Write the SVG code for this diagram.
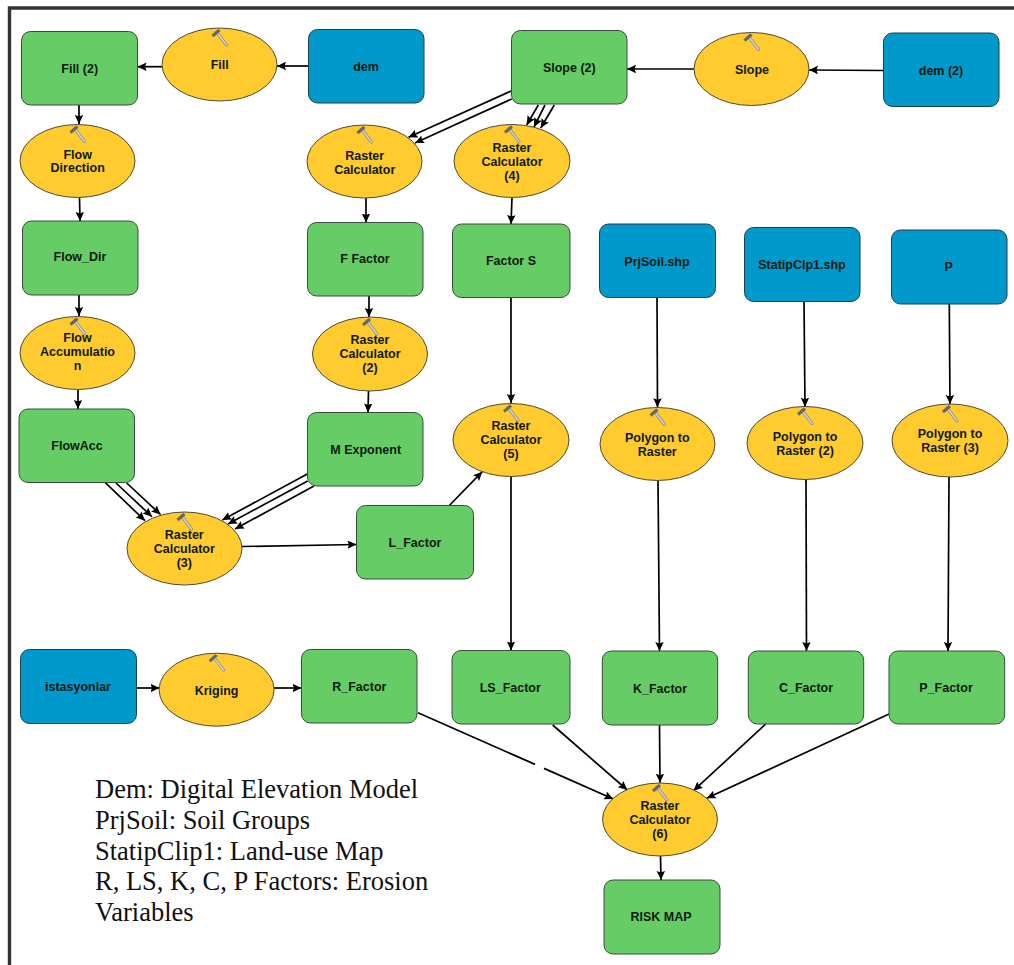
<svg xmlns="http://www.w3.org/2000/svg" xmlns:xlink="http://www.w3.org/1999/xlink" width="1014" height="965" viewBox="0 0 1014 965">
<style>
.g{fill:#66cd66;stroke:#3c4a3c;stroke-width:1}
.b{fill:#0099cc;stroke:#1f3f4f;stroke-width:1}
.y{fill:#ffcb2f;stroke:#4d4a38;stroke-width:1}
.t{font-family:"Liberation Sans",Arial,sans-serif;font-size:12.5px;font-weight:bold;fill:#0f1a10;text-anchor:middle}
.l{font-family:"Liberation Serif","Times New Roman",serif;font-size:26.5px;fill:#111}
#connectors line{stroke:#000;stroke-width:1.7;fill:none}
#connectors line.a{marker-end:url(#ah)}
</style>
<defs>
<marker id="ah" markerUnits="userSpaceOnUse" markerWidth="10" markerHeight="10" refX="9" refY="4.5" orient="auto"><path d="M0,0.3 L9,4.5 L0,8.7 L1.5,4.5 Z" fill="#000"/></marker>
<g id="hammer"><line x1="-3" y1="4" x2="7" y2="17" stroke="#8b8b8b" stroke-width="3" stroke-linecap="round"/><line x1="-3" y1="4" x2="7" y2="17" stroke="#d6d6d6" stroke-width="1.4" stroke-linecap="round"/><line x1="-7" y1="8" x2="0" y2="2" stroke="#666" stroke-width="3"/></g>
</defs>
<rect width="1014" height="965" fill="#fff"/>
<g id="frame"><path d="M1014,8 H9.5 V965" fill="none" stroke="#333" stroke-width="3.4"/></g>
<g id="connectors">
<line class="a" x1="162" y1="66.7" x2="137.5" y2="66.7"/>
<line class="a" x1="308.5" y1="66" x2="277" y2="66"/>
<line class="a" x1="79" y1="105" x2="79" y2="124"/>
<line class="a" x1="79.5" y1="197.5" x2="80" y2="221"/>
<line class="a" x1="79" y1="295" x2="79" y2="316"/>
<line class="a" x1="78" y1="389" x2="78" y2="409"/>
<line class="a" x1="694" y1="69" x2="627" y2="69"/>
<line class="a" x1="883.5" y1="70.5" x2="809" y2="70"/>
<line class="a" x1="511.7" y1="90.7" x2="408.5" y2="137.3"/>
<line class="a" x1="511.7" y1="99" x2="415" y2="143"/>
<line class="a" x1="538.3" y1="105" x2="526.7" y2="125"/>
<line class="a" x1="545" y1="105" x2="534" y2="127"/>
<line class="a" x1="554.3" y1="105" x2="540.7" y2="128"/>
<line class="a" x1="366" y1="198" x2="366" y2="222.5"/>
<line class="a" x1="512" y1="197.5" x2="511" y2="224"/>
<line class="a" x1="369" y1="296" x2="369" y2="317"/>
<line class="a" x1="368.5" y1="391" x2="368" y2="412.5"/>
<line class="a" x1="511" y1="297.5" x2="511" y2="403"/>
<line class="a" x1="657" y1="297.5" x2="657.5" y2="407.3"/>
<line class="a" x1="804" y1="301.5" x2="805" y2="406.7"/>
<line class="a" x1="949.3" y1="304" x2="950" y2="404"/>
<line class="a" x1="658" y1="480.5" x2="659.5" y2="651"/>
<line class="a" x1="806" y1="480" x2="806.5" y2="651"/>
<line class="a" x1="949" y1="477" x2="948" y2="651"/>
<line class="a" x1="511" y1="476" x2="511" y2="650.5"/>
<line class="a" x1="105.3" y1="482.7" x2="145" y2="520.7"/>
<line class="a" x1="116" y1="483" x2="152" y2="516.7"/>
<line class="a" x1="126.7" y1="483" x2="160.5" y2="514.5"/>
<line class="a" x1="307.3" y1="474" x2="222.3" y2="520"/>
<line class="a" x1="307.7" y1="481" x2="228" y2="524"/>
<line class="a" x1="314" y1="486" x2="235" y2="529"/>
<line class="a" x1="242" y1="546.5" x2="356.5" y2="544.5"/>
<line class="a" x1="449.3" y1="505.5" x2="482.3" y2="471.7"/>
<line class="a" x1="136" y1="688" x2="159.5" y2="688"/>
<line class="a" x1="274" y1="688" x2="301.5" y2="688"/>
<line x1="418" y1="712.7" x2="535" y2="764.4"/>
<line class="a" x1="544" y1="768.4" x2="613.3" y2="799"/>
<line class="a" x1="552.7" y1="725" x2="627.3" y2="790"/>
<line class="a" x1="659.5" y1="725" x2="660" y2="782.7"/>
<line class="a" x1="765.7" y1="724" x2="693.5" y2="790.7"/>
<line class="a" x1="889" y1="714" x2="706.7" y2="798.3"/>
<line class="a" x1="660.5" y1="856" x2="661" y2="880"/>
</g>
<g id="fill2"><rect class="g" x="21.5" y="31.5" width="116" height="73.5" rx="9"/><text class="t" x="79.7" y="72.5">Fill (2)</text></g>
<g id="fill"><ellipse class="y" cx="219.5" cy="64.5" rx="57.5" ry="36.5"/><use xlink:href="#hammer" x="219.5" y="28"/><text class="t" x="219.7" y="68.5">Fill</text></g>
<g id="dem"><rect class="b" x="308.5" y="29.5" width="115.5" height="73.5" rx="9"/><text class="t" x="366" y="71">dem</text></g>
<g id="slope2"><rect class="g" x="511.5" y="30.5" width="115.5" height="73.5" rx="9"/><text class="t" x="569.3" y="72">Slope (2)</text></g>
<g id="slope"><ellipse class="y" cx="751.5" cy="69" rx="57.5" ry="36.5"/><use xlink:href="#hammer" x="751.5" y="32.5"/><text class="t" x="752" y="73.5">Slope</text></g>
<g id="dem2"><rect class="b" x="883.5" y="33" width="115.5" height="73.5" rx="9"/><text class="t" x="941" y="74.5">dem (2)</text></g>
<g id="flowdirection"><ellipse class="y" cx="77.5" cy="161" rx="57.5" ry="36.5"/><use xlink:href="#hammer" x="77.5" y="124.5"/><text class="t" x="77.7" y="158.5">Flow</text><text class="t" x="77.7" y="172">Direction</text></g>
<g id="rc1"><ellipse class="y" cx="364.5" cy="161.5" rx="57.5" ry="36.5"/><use xlink:href="#hammer" x="364.5" y="125"/><text class="t" x="364.7" y="159.5">Raster</text><text class="t" x="364.7" y="173.5">Calculator</text></g>
<g id="rc4"><ellipse class="y" cx="512" cy="161" rx="58" ry="36.5"/><use xlink:href="#hammer" x="512" y="124.5"/><text class="t" x="512" y="151.5">Raster</text><text class="t" x="512" y="165.5">Calculator</text><text class="t" x="512" y="179.5">(4)</text></g>
<g id="flowdir"><rect class="g" x="22.5" y="221" width="115.5" height="74" rx="9"/><text class="t" x="80" y="261">Flow_Dir</text></g>
<g id="ffactor"><rect class="g" x="307.5" y="222.5" width="115.5" height="73.5" rx="9"/><text class="t" x="365" y="263">F Factor</text></g>
<g id="factors"><rect class="g" x="452.5" y="224" width="117.5" height="73.5" rx="9"/><text class="t" x="511" y="265">Factor S</text></g>
<g id="prjsoil"><rect class="b" x="599.5" y="224" width="116" height="73.5" rx="9"/><text class="t" x="657" y="265.5">PrjSoil.shp</text></g>
<g id="statip"><rect class="b" x="744.5" y="227.5" width="115.5" height="74" rx="9"/><text class="t" x="802" y="269">StatipClp1.shp</text></g>
<g id="p"><rect class="b" x="891.5" y="230" width="115.5" height="74" rx="9"/><text class="t" x="948.7" y="271">P</text></g>
<g id="poly1"><ellipse class="y" cx="657.5" cy="444" rx="57.5" ry="36.5"/><use xlink:href="#hammer" x="657.5" y="407.5"/><text class="t" x="657.3" y="441.5">Polygon to</text><text class="t" x="657.3" y="455.5">Raster</text></g>
<g id="poly2"><ellipse class="y" cx="805" cy="443" rx="58" ry="36.5"/><use xlink:href="#hammer" x="805" y="406.5"/><text class="t" x="805" y="440.5">Polygon to</text><text class="t" x="805" y="454.5">Raster (2)</text></g>
<g id="poly3"><ellipse class="y" cx="950" cy="440.5" rx="58" ry="36.5"/><use xlink:href="#hammer" x="950" y="404"/><text class="t" x="950" y="438">Polygon to</text><text class="t" x="950" y="452">Raster (3)</text></g>
<g id="flowaccumulation"><ellipse class="y" cx="77.5" cy="353" rx="57.5" ry="36.5"/><use xlink:href="#hammer" x="77.5" y="316.5"/><text class="t" x="77.5" y="341.5">Flow</text><text class="t" x="77.5" y="355.5">Accumulatio</text><text class="t" x="77.5" y="369.5">n</text></g>
<g id="rc2"><ellipse class="y" cx="370" cy="354" rx="57.5" ry="37"/><use xlink:href="#hammer" x="370" y="317"/><text class="t" x="370" y="344">Raster</text><text class="t" x="370" y="358">Calculator</text><text class="t" x="370" y="372">(2)</text></g>
<g id="flowacc"><rect class="g" x="19" y="409" width="115.5" height="73.5" rx="9"/><text class="t" x="77" y="450">FlowAcc</text></g>
<g id="mexponent"><rect class="g" x="307.5" y="412.5" width="115.5" height="73.5" rx="9"/><text class="t" x="365.7" y="453.5">M Exponent</text></g>
<g id="rc5"><ellipse class="y" cx="511" cy="440" rx="58" ry="36.5"/><use xlink:href="#hammer" x="511" y="403.5"/><text class="t" x="511" y="430">Raster</text><text class="t" x="511" y="444">Calculator</text><text class="t" x="511" y="458">(5)</text></g>
<g id="rc3"><ellipse class="y" cx="184.5" cy="548.5" rx="57.5" ry="36.5"/><use xlink:href="#hammer" x="184.5" y="512"/><text class="t" x="184.3" y="538.5">Raster</text><text class="t" x="184.3" y="552.5">Calculator</text><text class="t" x="184.3" y="566.5">(3)</text></g>
<g id="lfactor"><rect class="g" x="356.5" y="505.5" width="117" height="73.5" rx="9"/><text class="t" x="415" y="546.5">L_Factor</text></g>
<g id="istasyonlar"><rect class="b" x="20.5" y="649.5" width="116" height="74" rx="9"/><text class="t" x="78" y="691">istasyonlar</text></g>
<g id="kriging"><ellipse class="y" cx="216.6" cy="689.7" rx="57.5" ry="36.5"/><use xlink:href="#hammer" x="216.6" y="653.2"/><text class="t" x="216.6" y="695">Kriging</text></g>
<g id="rfactor"><rect class="g" x="301.5" y="649.5" width="115.5" height="73.5" rx="9"/><text class="t" x="359.3" y="691">R_Factor</text></g>
<g id="lsfactor"><rect class="g" x="452" y="650.5" width="118" height="73.5" rx="9"/><text class="t" x="510.3" y="692">LS_Factor</text></g>
<g id="kfactor"><rect class="g" x="602.3" y="651" width="115.4" height="74" rx="9"/><text class="t" x="660" y="692.5">K_Factor</text></g>
<g id="cfactor"><rect class="g" x="748.3" y="651" width="115.4" height="73" rx="9"/><text class="t" x="806" y="691.5">C_Factor</text></g>
<g id="pfactor"><rect class="g" x="889" y="651" width="115.7" height="73" rx="9"/><text class="t" x="946" y="691.5">P_Factor</text></g>
<g id="rc6"><ellipse class="y" cx="660" cy="819.5" rx="57.5" ry="36.5"/><use xlink:href="#hammer" x="660" y="783"/><text class="t" x="660" y="810">Raster</text><text class="t" x="660" y="824">Calculator</text><text class="t" x="660" y="838">(6)</text></g>
<g id="riskmap"><rect class="g" x="604" y="880" width="116" height="74" rx="9"/><text class="t" x="661" y="921">RISK MAP</text></g>
<g id="legend">
<text class="l" x="95" y="798">Dem: Digital Elevation Model</text>
<text class="l" x="95" y="829">PrjSoil: Soil Groups</text>
<text class="l" x="95" y="859.5">StatipClip1: Land-use Map</text>
<text class="l" x="95" y="890">R, LS, K, C, P Factors: Erosion</text>
<text class="l" x="95" y="920.7">Variables</text>
</g>
</svg>
